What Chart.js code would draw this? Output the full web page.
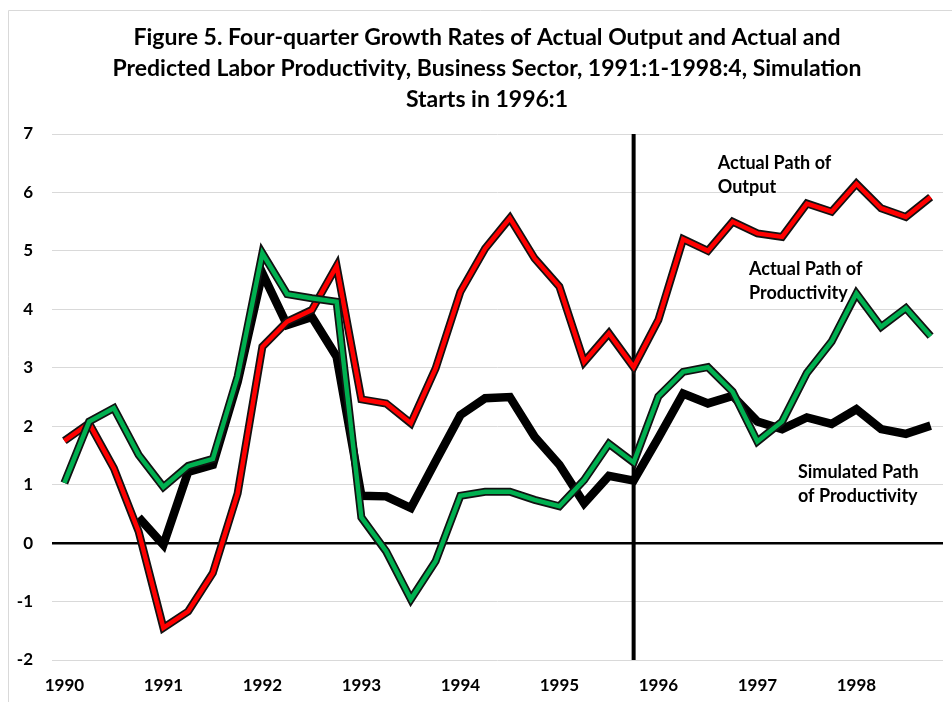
<!DOCTYPE html>
<html>
<head>
<meta charset="utf-8">
<script src="https://cdn.jsdelivr.net/npm/chart.js@4.4.1/dist/chart.umd.min.js"></script>
<style>
    body { margin: 0; background: #fff; }
    #wrap { width: 952px; height: 702px; position: relative; }
</style>
</head>
<body>
<div id="wrap"><canvas id="chart"></canvas></div>
<script>
// Quarters 1990:1 - 1998:4
var quarters = [];
for (var yr = 1990; yr <= 1998; yr++) {
    for (var q = 1; q <= 4; q++) {
        quarters.push(yr + ':' + q);
    }
}

// Actual path of output (red)
var actual_output = [1.75, 2.05, 1.28, 0.2, -1.45, -1.17, -0.51, 0.85, 3.36, 3.79, 3.99, 4.74,
    2.46, 2.39, 2.05, 2.99, 4.30, 5.04, 5.56, 4.87, 4.39, 3.10, 3.59, 3.01,
    3.82, 5.20, 5.00, 5.50, 5.30, 5.24, 5.81, 5.67, 6.15, 5.73, 5.58, 5.92];

// Actual path of productivity (green)
var actual_productivity = [1.03, 2.08, 2.31, 1.51, 0.96, 1.32, 1.44, 2.85, 4.96, 4.26, 4.19, 4.13,
    0.44, -0.14, -0.96, -0.31, 0.81, 0.88, 0.88, 0.74, 0.63, 1.08, 1.70, 1.38,
    2.51, 2.93, 3.01, 2.59, 1.74, 2.08, 2.91, 3.45, 4.27, 3.70, 4.02, 3.54];

// Simulated path of productivity (black)
var simulated_productivity = [null, null, null, 0.44, -0.03, 1.22, 1.34, 2.76, 4.62, 3.73, 3.87, 3.19,
    0.81, 0.80, 0.60, 1.40, 2.19, 2.48, 2.50, 1.82, 1.34, 0.68, 1.15, 1.07,
    1.80, 2.56, 2.39, 2.52, 2.08, 1.95, 2.15, 2.04, 2.29, 1.95, 1.87, 2.01];

// Simulation marker sits on this quarter
const marker_quarter = '1995:4';

const title_lines = [
    'Figure 5. Four-quarter Growth Rates of Actual Output and Actual and',
    'Predicted Labor Productivity, Business Sector, 1991:1-1998:4, Simulation',
    'Starts in 1996:1'
];

// Text labels next to the lines: [text lines, quarter index, value]
const notes = [
    [['Actual Path of', 'Output'], 26.4, 6.5],
    [['Actual Path of', 'Productivity'], 27.66, 4.69],
    [['Simulated Path', 'of Productivity'], 29.64, 1.22]
];

const font_family = 'Lato, "Open Sans", sans-serif';


// Draws the frame, title, simulation marker and notes
const extras = {
    id: 'extras',
    beforeDraw(chart) {
        const ctx = chart.ctx;
        ctx.save();
        ctx.strokeStyle = '#d9d9d9';
        ctx.lineWidth = 1;
        ctx.beginPath();
        ctx.moveTo(8.5, 702);
        ctx.lineTo(8.5, 10.5);
        ctx.lineTo(952, 10.5);
        ctx.stroke();

        ctx.fillStyle = '#000';
        ctx.font = 'bold 23px ' + font_family;
        ctx.textAlign = 'center';
        ctx.textBaseline = 'middle';
        title_lines.forEach((line, i) => {
            ctx.fillText(line, 487, 38 + i * 31);
        });
        ctx.restore();
    },
    beforeDatasetsDraw(chart) {
        const ctx = chart.ctx;
        const x = chart.scales.x.getPixelForValue(quarters.indexOf(marker_quarter));
        ctx.save();
        ctx.strokeStyle = '#000';
        ctx.lineWidth = 4;
        ctx.beginPath();
        ctx.moveTo(x, chart.chartArea.top);
        ctx.lineTo(x, chart.chartArea.bottom);
        ctx.stroke();
        ctx.restore();
    },
    afterDatasetsDraw(chart) {
        const ctx = chart.ctx;
        ctx.save();
        ctx.fillStyle = '#000';
        ctx.font = 'bold 18px ' + font_family;
        ctx.textAlign = 'left';
        ctx.textBaseline = 'middle';
        notes.forEach(note => {
            const x = chart.scales.x.getPixelForValue(note[1]);
            const y = chart.scales.y.getPixelForValue(note[2]);
            note[0].forEach((line, i) => {
                ctx.fillText(line, x, y + i * 24);
            });
        });
        ctx.restore();
    }
};


function line_set(label, data, color, width, order) {
    return {
        label: label,
        data: data,
        borderColor: color,
        borderWidth: width,
        pointRadius: 0,
        tension: 0,
        fill: false,
        order: order
    };
}


document.addEventListener('DOMContentLoaded', () => {

    const ctx = document.getElementById('chart');

    new Chart(ctx, {
        type: 'line',
        data: {
            labels: quarters,
            datasets: [
                line_set('Actual Path of Productivity', actual_productivity, '#00b050', 4.5, 1),
                line_set('', actual_productivity, '#111', 8, 2),
                line_set('Actual Path of Output', actual_output, '#ff0000', 4.5, 3),
                line_set('', actual_output, '#111', 8, 4),
                line_set('Simulated Path of Productivity', simulated_productivity, '#000', 8.5, 5)
            ]
        },
        options: {
            responsive: true,
            maintainAspectRatio: false,
            animation: false,
            layout: {
                padding: { top: 134, right: 9, bottom: 0, left: 0 }
            },
            plugins: {
                legend: { display: false },
                title: { display: false },
                tooltip: { enabled: false }
            },
            scales: {
                x: {
                    offset: true,
                    grid: { display: false, drawTicks: false },
                    border: { display: false },
                    afterFit: scale => { scale.height = 42; },
                    ticks: {
                        autoSkip: false,
                        maxRotation: 0,
                        padding: 15,
                        color: '#000',
                        font: { family: font_family, size: 17, weight: 'bold' },
                        callback: function(val) {
                            const lbl = quarters[val];
                            return lbl.endsWith(':1') ? lbl.slice(0, 4) : '';
                        }
                    }
                },
                y: {
                    min: -2,
                    max: 7,
                    grid: {
                        drawTicks: false,
                        color: c => c.tick.value === 0 ? '#000' : '#d9d9d9',
                        lineWidth: c => c.tick.value === 0 ? 2.5 : 1
                    },
                    border: { display: false },
                    afterFit: scale => { scale.width = 52; },
                    ticks: {
                        stepSize: 1,
                        padding: 19,
                        color: '#000',
                        font: { family: font_family, size: 17, weight: 'bold' }
                    }
                }
            }
        },
        plugins: [extras]
    });
});
</script>
</body>
</html>
